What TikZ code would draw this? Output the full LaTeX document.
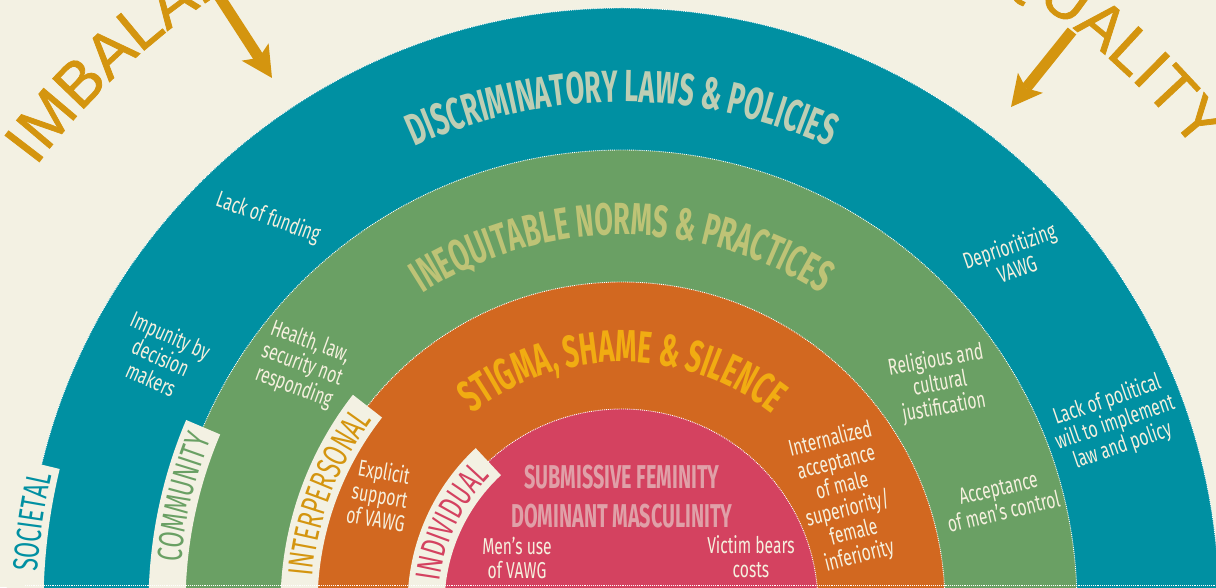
\documentclass[tikz,border=0pt]{standalone}
\usepackage{fontspec}
\usepackage{tikz}
\usetikzlibrary{arrows.meta}
\usetikzlibrary{decorations.text}
\newfontfamily\condfam{Fira Sans}[FakeStretch=0.68]
\newfontfamily\tabfam{Fira Sans}[FakeStretch=0.66]
\newfontfamily\headfam{Fira Sans}[FakeStretch=0.6]
\newfontfamily\outerfam{Liberation Sans}[FakeBold=1.2]
\definecolor{cream}{HTML}{F3F1E3}
\definecolor{ringteal}{HTML}{0090A2}
\definecolor{ringgreen}{HTML}{6AA064}
\definecolor{ringorange}{HTML}{D26820}
\definecolor{ringpink}{HTML}{D44260}
\definecolor{goldcol}{HTML}{D4950F}
\definecolor{stigcol}{HTML}{F1AC12}
\definecolor{discol}{HTML}{BECEB4}
\definecolor{ineqcol}{HTML}{BEC376}
\definecolor{corecol}{HTML}{E0A0A8}
\definecolor{txtcream}{HTML}{F5F0DE}
\newcommand\headf{\headfam\bfseries\fontsize{45pt}{45pt}\selectfont}
\newcommand\coref{\headfam\bfseries\fontsize{33pt}{33pt}\selectfont}
\newcommand\tabf{\tabfam\fontsize{35pt}{35pt}\selectfont}
\newcommand\lblf{\condfam\fontsize{23pt}{24pt}\selectfont}
\newcommand\outf{\outerfam\fontsize{63pt}{63pt}\selectfont}
\tikzset{
ring/.style={draw=white, densely dotted, line width=0.9pt},
tabband/.style={fill=cream},
lbl/.style={text=txtcream, font=\lblf, align=center, inner sep=0pt},
core/.style={text=corecol, font=\coref, inner sep=0pt},
curved/.style={decorate, decoration={text along path, text align=center, #1}},
bigarrow/.style={color=goldcol, line width=11pt,
  -{Stealth[length=31pt,width=32pt,inset=7pt,fill=goldcol,line width=0pt]}},
}

\begin{document}
\begin{tikzpicture}[x=1pt,y=1pt]
\useasboundingbox (-622,18) rectangle (594,605);
\clip (-622,18) rectangle (594,605);
\fill[cream] (-622,18) rectangle (594,605);
\coordinate (ctr) at (0,0);
% the rings
\foreach \r/\c in {597/ringteal, 455/ringgreen, 323/ringorange, 196/ringpink}
  \filldraw[ring, fill=\c] (ctr) circle[radius=\r];
% the level tabs
\foreach \rin/\ang in {578.5/166.4, 436.5/157, 304.5/142, 177.5/133}
{
  \pgfmathsetmacro\rout{\rin+37}
  \fill[tabband] (182:\rin) arc[start angle=182, end angle=\ang, radius=\rin]
    -- (\ang:\rout) arc[start angle=\ang, end angle=182, radius=\rout] -- cycle;
}
\coordinate (baseL) at (-597,19.5);
\coordinate (baseR) at (597,19.5);
\draw[ring] (baseL) -- (baseR);
% the level names
\path[curved={text align=right, text={|\tabf|SOCIETAL}, text color=ringteal}]
  (182:585) arc[start angle=182, end angle=167.2, radius=585];
\path[curved={text align=right, text={|\tabf|COMMUNITY}, text color=ringgreen}]
  (182:443) arc[start angle=182, end angle=158, radius=443];
\path[curved={text align=right, text={|\tabf|INTERPERSONAL}, text color=goldcol}]
  (182:311) arc[start angle=182, end angle=143.5, radius=311];
\path[curved={text align=right, text={|\tabf|INDIVIDUAL}, text color=ringpink}]
  (182:184) arc[start angle=182, end angle=135.5, radius=184];
% the ring titles
\path[curved={text={|\headf|DISCRIMINATORY LAWS {\&} POLICIES}, text color=discol}]
  (160:503) arc[start angle=160, end angle=20, radius=503];
\path[curved={text={|\headf|INEQUITABLE NORMS {\&} PRACTICES}, text color=ineqcol}]
  (165:370) arc[start angle=165, end angle=15, radius=370];
\path[curved={text={|\headf|STIGMA, SHAME {\&} SILENCE}, text color=stigcol}]
  (170:243) arc[start angle=170, end angle=10, radius=243];
\node[core] (submis) at (0,127.5) {SUBMISSIVE FEMINITY};
\node[core] (domin) at (0,89) {DOMINANT MASCULINITY};
% the factors
\node[lbl, rotate=-20] (lackfund) at (-354,387) {Lack of funding};
\node[lbl, rotate=-24] (impunity) at (-461,248) {Impunity by\\decision\\makers};
\node[lbl, rotate=19] (deprior) at (391,348) {Deprioritizing\\VAWG};
\node[lbl, rotate=19] (lackpol) at (493,182) {Lack of political\\will to implement\\law and policy};
\node[lbl, rotate=-20] (health) at (-320,240) {Health, law,\\security not\\responding};
\node[lbl, rotate=10] (religion) at (318,221) {Religious and\\cultural\\justification};
\node[lbl, rotate=13] (accept) at (379,105) {Acceptance\\of men’s control};
\node[lbl, rotate=-10] (explicit) at (-242,110) {Explicit\\support\\of VAWG};
\node[lbl, rotate=14] (internal) at (223,107) {Internalized\\acceptance\\of male\\superiority/\\female\\inferiority};
\node[lbl] (mensuse) at (-105,47) {Men’s use\\of VAWG};
\node[lbl] (victim) at (129,48) {Victim bears\\costs};
% the outer words and arrows
\path[curved={text align=left, text={|\outf|IMBALANCE}, text color=goldcol}]
  (143.2:732) arc[start angle=143.2, end angle=95, radius=732];
\path[curved={text align=right, text={|\outf|INEQUALITY}, text color=goldcol}]
  (85:732) arc[start angle=85, end angle=38.3, radius=732];
\coordinate (arrLtail) at (-405,612);
\coordinate (arrLtip) at (-350,527);
\coordinate (arrRtail) at (450,574);
\coordinate (arrRtip) at (389,498);
\draw[bigarrow] (arrLtail) -- (arrLtip);
\draw[bigarrow] (arrRtail) -- (arrRtip);
\end{tikzpicture}
\end{document}
